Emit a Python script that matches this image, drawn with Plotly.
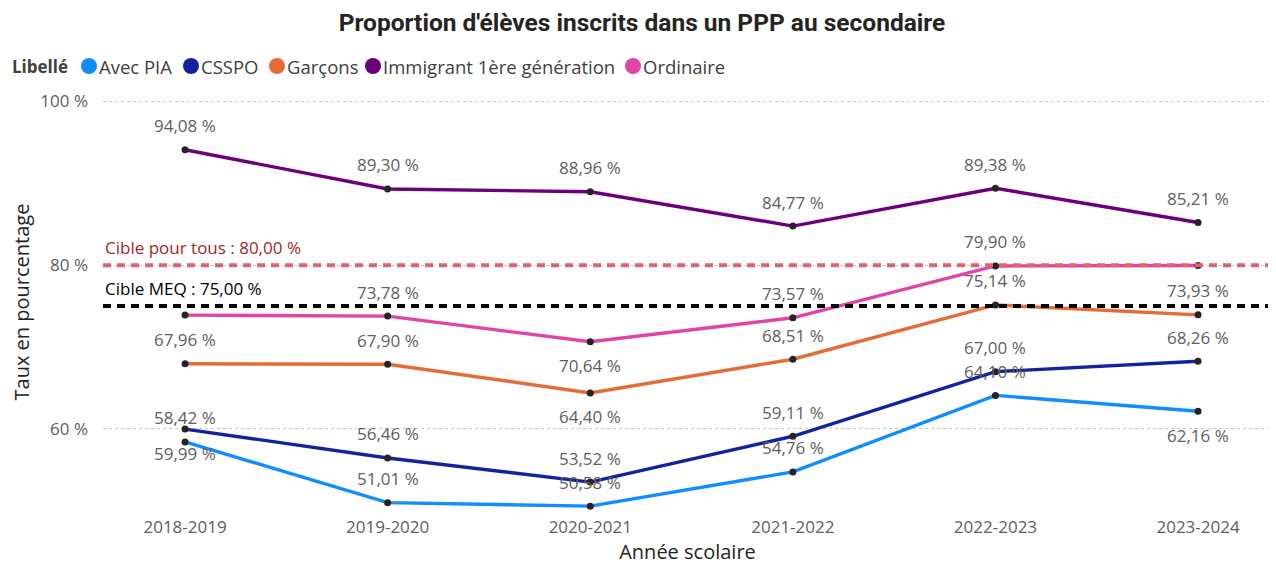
import plotly.graph_objects as go

years = ["2018-2019", "2019-2020", "2020-2021", "2021-2022", "2022-2023", "2023-2024"]

avec_pia = [58.42, 51.01, 50.58, 54.76, 64.10, 62.16]
csspo = [59.99, 56.46, 53.52, 59.11, 67.00, 68.26]
garcons = [67.96, 67.90, 64.40, 68.51, 75.14, 73.93]
immigrant = [94.08, 89.30, 88.96, 84.77, 89.38, 85.21]
ordinaire = [73.90, 73.78, 70.64, 73.57, 79.90, 79.95]

cible_tous = 80.0
cible_meq = 75.0

series_names = ["Avec PIA", "CSSPO", "Garçons", "Immigrant 1ère génération", "Ordinaire"]
series_values = [avec_pia, csspo, garcons, immigrant, ordinaire]
colors = ["#118DFF", "#12239E", "#E66C37", "#6B007B", "#E044A7"]

# label placement style: +1 above, -1 below, 0 hidden (overlap)
label_side = {
    "Avec PIA": [1, 1, 1, 1, 1, -1],
    "CSSPO": [-1, 1, 1, 1, 1, 1],
    "Garçons": [1, 1, -1, 1, 1, 1],
    "Immigrant 1ère génération": [1, 1, 1, 1, 1, 1],
    "Ordinaire": [0, 1, -1, 1, 1, 0],
}

FONT = "Open Sans, sans-serif"
GREY = "#605E5C"
DARK = "#252423"

W, H = 1268, 557
ML, MR, MT, MB = 95, 4, 81, 50
PW = W - ML - MR
PH = H - MT - MB


def fr(v):
    return f"{v:.2f}".replace(".", ",") + " %"


def px_x(px):
    return (px - ML) / PW


def px_y(py):
    return (H - MB - py) / PH


fig = go.Figure()

for name, vals, col in zip(series_names, series_values, colors):
    fig.add_trace(go.Scatter(
        x=years, y=vals, mode="lines", name=name,
        line=dict(color=col, width=3.4), showlegend=False, hoverinfo="skip"))

for name, vals, col in zip(series_names, series_values, colors):
    fig.add_trace(go.Scatter(
        x=years, y=vals, mode="markers", name=name,
        marker=dict(color=DARK, size=7), showlegend=False))

# target lines
fig.add_shape(type="line", xref="paper", yref="y", x0=0, x1=1, y0=cible_tous, y1=cible_tous,
              line=dict(color="#E0646E", width=4, dash="8px,6px"), layer="above")
fig.add_shape(type="line", xref="paper", yref="y", x0=0, x1=1, y0=cible_meq, y1=cible_meq,
              line=dict(color="#000000", width=4, dash="8px,6px"), layer="above")

fig.add_annotation(xref="paper", yref="y", x=0, y=cible_tous, yshift=18, xanchor="left",
                   text="Cible pour tous : " + fr(cible_tous), showarrow=False,
                   font=dict(family=FONT, size=17, color="#A4262C"))
fig.add_annotation(xref="paper", yref="y", x=0, y=cible_meq, yshift=18, xanchor="left",
                   text="Cible MEQ : " + fr(cible_meq), showarrow=False,
                   font=dict(family=FONT, size=17, color="#000000"))

# data labels
for name, vals in zip(series_names, series_values):
    for xv, yv, side in zip(years, vals, label_side[name]):
        if side == 0:
            continue
        fig.add_annotation(x=xv, y=yv, text=fr(yv), showarrow=False, yshift=24 * side,
                           font=dict(family=FONT, size=17, color=GREY))

# legend (Power BI style: title + colored dots)
leg_y = px_y(58)
fig.add_annotation(xref="paper", yref="paper", x=px_x(2), y=leg_y, xanchor="left", yanchor="middle",
                   text="<b>Libellé</b>", showarrow=False,
                   font=dict(family=FONT, size=17, color="#404040"))
dot_x = [81, 183, 269, 365, 625]
for name, col, dx in zip(series_names, colors, dot_x):
    fig.add_shape(type="circle", xref="paper", yref="paper", xsizemode="pixel", ysizemode="pixel",
                  xanchor=px_x(dx), yanchor=leg_y, x0=-8, x1=8, y0=-8, y1=8,
                  fillcolor=col, line=dict(width=0))
    fig.add_annotation(xref="paper", yref="paper", x=px_x(dx + 8), y=leg_y, xanchor="left",
                       yanchor="middle", text=name, showarrow=False,
                       font=dict(family=FONT, size=18.5, color="#404040"))

fig.update_layout(
    width=W, height=H,
    margin=dict(l=ML, r=MR, t=MT, b=MB),
    paper_bgcolor="white", plot_bgcolor="white",
    title=dict(text="<b>Proportion d'élèves inscrits dans un PPP au secondaire</b>",
               x=0.5, xref="container", xanchor="center", y=1 - 14 / H, yref="container",
               yanchor="middle",
               font=dict(family="Roboto, sans-serif", size=24.5, color=DARK)),
    showlegend=False,
    xaxis=dict(type="category", range=[-0.405, 5.365], showgrid=False, zeroline=False,
               showline=False, ticks="",
               tickfont=dict(family=FONT, size=17, color=GREY),
               title=dict(text="Année scolaire", font=dict(family=FONT, size=20, color=DARK), standoff=5)),
    yaxis=dict(range=[49.5, 101.5], tickvals=[60, 80, 100], ticktext=["60 %", "80 %", "100 %"],
               showgrid=True, gridcolor="#C8C6C4", griddash="dot", gridwidth=1,
               zeroline=False, showline=False, ticks="", ticklabelstandoff=14,
               tickfont=dict(family=FONT, size=17, color=GREY),
               title=dict(text="Taux en pourcentage", font=dict(family=FONT, size=20, color=DARK), standoff=12)),
)

fig.write_html("out.html")
